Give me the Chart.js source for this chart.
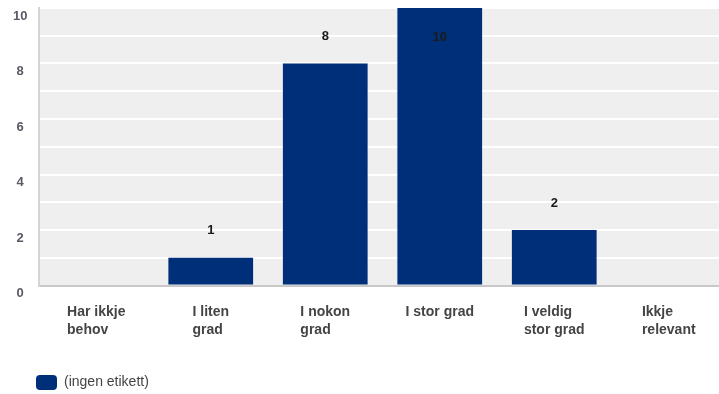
<!DOCTYPE html>
<html>
<head>
<meta charset="utf-8">
<title>Behov</title>
<script src="https://cdn.jsdelivr.net/npm/chart.js@4.4.1/dist/chart.umd.min.js"></script>
<style>
    html, body { margin: 0; padding: 0; background: #fff; overflow: hidden; }
    #wrap { width: 726px; height: 394px; }
</style>
</head>
<body>
<div id="wrap"><canvas id="grafico" width="726" height="394"></canvas></div>
<script>
// --- datos del gráfico ---
const categorias = [
    ['Har ikkje', 'behov'],
    ['I liten', 'grad'],
    ['I nokon', 'grad'],
    ['I stor grad'],
    ['I veldig', 'stor grad'],
    ['Ikkje', 'relevant']
];
const valores = [0, 1, 8, 10, 2, 0];
const ticksY = [0, 2, 4, 6, 8, 10];
const nombreSerie = '(ingen etikett)';

const fuente = '"Liberation Sans", Arial, Helvetica, sans-serif';
Chart.defaults.font.family = fuente;

// Fondo gris del área de trazado
const fondoArea = {
    id: 'fondoArea',
    beforeDraw(chart) {
        const { ctx, chartArea: a } = chart;
        ctx.save();
        ctx.fillStyle = '#efefef';
        ctx.fillRect(a.left, a.top, a.right - a.left, a.bottom - a.top);
        ctx.restore();
    }
};

// Valores encima de cada barra (o dentro si no hay sitio)
const etiquetasValor = {
    id: 'etiquetasValor',
    afterDatasetsDraw(chart) {
        const { ctx, chartArea } = chart;
        const meta = chart.getDatasetMeta(0);
        ctx.save();
        ctx.font = 'bold 13px ' + fuente;
        ctx.fillStyle = '#1a1a1a';
        ctx.textAlign = 'center';
        ctx.textBaseline = 'middle';
        meta.data.forEach((barra, i) => {
            if (!valores[i]) return;
            let y = barra.y - 27;
            if (y < chartArea.top + 6) y = barra.y + 29;
            ctx.fillText(String(valores[i]), barra.x, y);
        });
        ctx.restore();
    }
};

// Etiquetas del eje x: bloque alineado a la izquierda, centrado en la categoría
const etiquetasX = {
    id: 'etiquetasX',
    afterDraw(chart) {
        const { ctx } = chart;
        const escala = chart.scales.x;
        ctx.save();
        ctx.font = 'bold 14px ' + fuente;
        ctx.fillStyle = '#444444';
        ctx.textAlign = 'left';
        ctx.textBaseline = 'middle';
        categorias.forEach((lineas, i) => {
            const cx = escala.getPixelForTick(i);
            const ancho = Math.max(...lineas.map(l => ctx.measureText(l).width));
            lineas.forEach((l, j) => {
                ctx.fillText(l, cx - ancho / 2, escala.top + 26.5 + j * 18);
            });
        });
        ctx.restore();
    }
};

new Chart(document.getElementById('grafico'), {
    type: 'bar',
    data: {
        labels: categorias,
        datasets: [{
            label: nombreSerie,
            data: valores,
            backgroundColor: '#002f7a',
            borderWidth: 0,
            categoryPercentage: 1,
            barPercentage: 0.74
        }]
    },
    options: {
        responsive: false,
        animation: false,
        layout: { padding: { left: 32, top: 8, right: 0, bottom: -6 } },
        plugins: {
            legend: {
                position: 'bottom',
                align: 'start',
                labels: {
                    boxWidth: 21,
                    boxHeight: 15,
                    padding: 4,
                    color: '#444444',
                    useBorderRadius: true,
                    borderRadius: 4,
                    font: { size: 14 }
                }
            },
            tooltip: { enabled: false }
        },
        scales: {
            x: {
                offset: true,
                grid: { display: false },
                border: { display: true, color: '#c8c8c8', width: 2 },
                ticks: { display: false },
                afterFit(s) {
                    s.height = 85.5;
                    s.paddingLeft = 0;
                    s.paddingRight = 0;
                }
            },
            y: {
                min: 0,
                max: 10,
                border: { display: true, color: '#d4d4d4', width: 2 },
                grid: {
                    drawTicks: false,
                    lineWidth: 2,
                    color: c => (c.tick && c.tick.value === 0) ? 'rgba(0,0,0,0)' : '#ffffff'
                },
                ticks: {
                    stepSize: 1,
                    mirror: true,
                    crossAlign: 'center',
                    padding: -26,
                    labelOffset: 8,
                    color: '#5a5a66',
                    font: { size: 13, weight: 'bold' },
                    callback: v => ticksY.includes(v) ? v : ''
                },
                afterFit(s) {
                    s.width = 7;
                    s.paddingTop = 0;
                    s.paddingBottom = 0;
                }
            }
        }
    },
    plugins: [fondoArea, etiquetasValor, etiquetasX]
});
</script>
</body>
</html>
